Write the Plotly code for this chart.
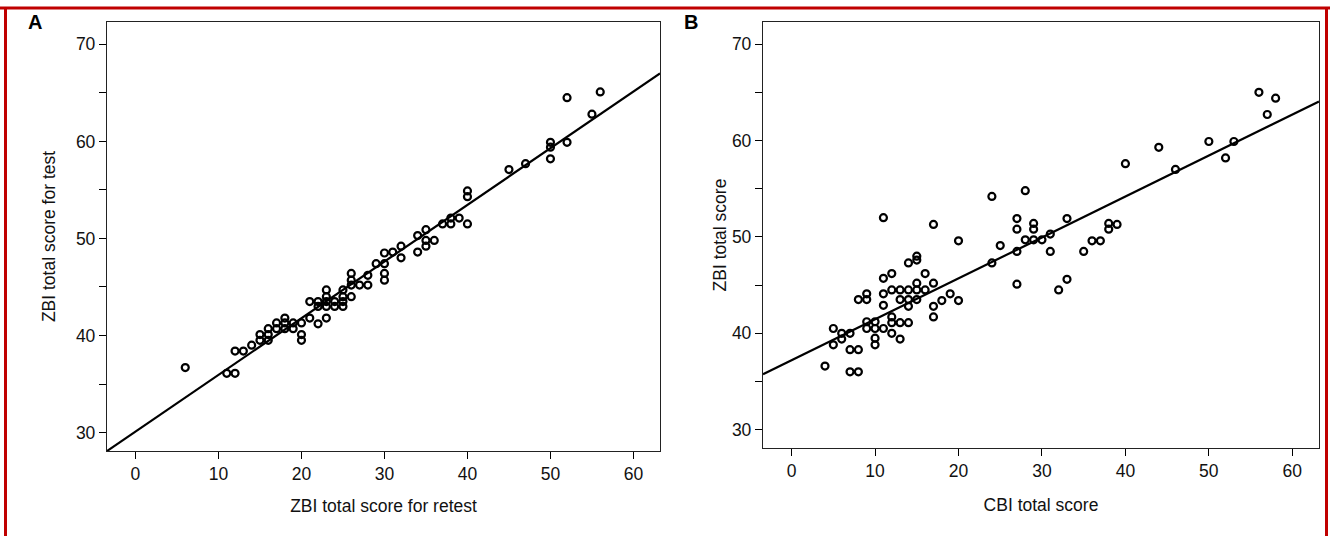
import plotly.graph_objects as go

# ---------------- data ----------------
# Panel A: ZBI retest (x) vs ZBI test (y)
a_retest = [6, 11, 12, 12, 13, 14, 15, 15, 16, 16, 16, 17, 17, 18, 18, 18, 19, 19,
            20, 20, 20, 21, 21, 22, 22, 22, 23, 23, 23, 23, 23, 24, 24, 25, 25, 25, 25,
            26, 26, 26, 26, 27, 28, 28, 29, 30, 30, 30, 30, 31, 32, 32, 34, 34, 35, 35, 35,
            36, 37, 38, 38, 39, 40, 40, 40, 45, 47, 50, 50, 50, 52, 55, 52, 56]
a_test = [36.7, 36.1, 36.1, 38.4, 38.4, 39.0, 39.5, 40.1, 39.5, 40.1, 40.7, 40.7, 41.3,
          41.8, 40.7, 41.3, 41.3, 40.7, 41.3, 40.1, 39.5, 43.5, 41.8, 43.5, 43.0, 41.2,
          44.7, 44.0, 43.5, 43.0, 41.8, 43.5, 43.0, 44.7, 44.0, 43.5, 43.0,
          46.4, 45.7, 45.2, 44.0, 45.2, 45.2, 46.2, 47.4, 48.5, 47.4, 46.4, 45.7, 48.6,
          49.2, 48.0, 50.3, 48.6, 50.9, 49.8, 49.2, 49.8, 51.5, 52.1, 51.5, 52.1,
          54.9, 54.3, 51.5, 57.1, 57.7, 59.9, 59.4, 58.2, 59.9, 62.8, 64.5, 65.1]
a_fit_intercept = 30.1
a_fit_slope = 0.584

# Panel B: CBI total (x) vs ZBI total (y)
b_cbi = [4, 5, 5, 6, 6, 7, 7, 7, 8, 8, 8, 9, 9, 9, 9, 10, 10, 10, 10,
         11, 11, 11, 11, 11, 12, 12, 12, 12, 12, 13, 13, 13, 13, 14, 14, 14, 14, 14,
         15, 15, 15, 15, 15, 16, 16, 17, 17, 17, 17, 18, 19, 20, 20,
         24, 28, 24, 25, 27, 27, 27, 27, 28, 29, 29, 29, 30, 31, 31, 32, 33, 33,
         35, 36, 37, 38, 38, 39, 40, 44, 46, 50, 52, 53, 56, 57, 58]
b_zbi = [36.6, 40.5, 38.8, 40.0, 39.4, 40.0, 38.3, 36.0, 38.3, 36.0, 43.5,
         43.5, 44.1, 41.2, 40.5, 41.2, 40.5, 39.5, 38.8,
         52.0, 45.7, 44.1, 42.9, 40.5, 46.2, 44.5, 41.7, 41.1, 40.0,
         44.5, 43.5, 41.1, 39.4, 47.3, 44.5, 43.5, 42.8, 41.1,
         48.0, 45.2, 44.5, 43.5, 47.6, 46.2, 44.5, 51.3, 45.2, 42.8, 41.7, 43.4, 44.1, 43.4, 49.6,
         54.2, 54.8, 47.3, 49.1, 51.9, 50.8, 48.5, 45.1, 49.7, 51.4, 50.8, 49.7, 49.7,
         50.3, 48.5, 44.5, 51.9, 45.6, 48.5, 49.6, 49.6, 51.4, 50.8, 51.3, 57.6, 59.3,
         57.0, 59.9, 58.2, 59.9, 65.0, 62.7, 64.4]
b_fit_intercept = 37.2
b_fit_slope = 0.425

x_ticks = [0, 10, 20, 30, 40, 50, 60]
y_ticks = [30, 35, 40, 45, 50, 55, 60, 65, 70]
y_ticktext = ["30", "", "40", "", "50", "", "60", "", "70"]

x_range = [-3.43, 63.2]
y_range = [28.1, 72.3]

W, H = 1330, 536
FONT = "Liberation Sans, Arial, sans-serif"
FS = 17.5

def line_pts(a, b):
    xs = list(x_range)
    return xs, [a + b * x for x in xs]

fig = go.Figure()

marker = dict(symbol="circle-open", size=7, color="black", line=dict(width=2.2, color="black"))

lx, ly = line_pts(a_fit_intercept, a_fit_slope)
fig.add_trace(go.Scatter(x=lx, y=ly, mode="lines", line=dict(color="black", width=2.2),
                         xaxis="x", yaxis="y", showlegend=False))
fig.add_trace(go.Scatter(x=a_retest, y=a_test, mode="markers", marker=marker,
                         xaxis="x", yaxis="y", showlegend=False))

lx, ly = line_pts(b_fit_intercept, b_fit_slope)
fig.add_trace(go.Scatter(x=lx, y=ly, mode="lines", line=dict(color="black", width=2.2),
                         xaxis="x2", yaxis="y2", showlegend=False))
fig.add_trace(go.Scatter(x=b_cbi, y=b_zbi, mode="markers", marker=marker,
                         xaxis="x2", yaxis="y2", showlegend=False))

def px_x(p):
    return p / W

def px_y(p):
    return 1 - p / H

tfont = dict(family=FONT, size=FS, color="#111")

common_x = dict(range=x_range, tickmode="array", tickvals=x_ticks, ticks="outside",
                ticklen=7, tickwidth=1.3, tickcolor="black", showline=True, linecolor="#222",
                linewidth=1.3, mirror=True, showgrid=False, zeroline=False, tickfont=tfont)
common_y = dict(range=y_range, tickmode="array", tickvals=y_ticks, ticktext=y_ticktext,
                ticks="outside", ticklen=7, tickwidth=1.3, tickcolor="black", showline=True,
                linecolor="#222", linewidth=1.3, mirror=True, showgrid=False, zeroline=False,
                tickfont=tfont)

fig.update_layout(
    width=W, height=H, autosize=False,
    margin=dict(l=0, r=0, t=0, b=0),
    paper_bgcolor="white", plot_bgcolor="white",
    xaxis=dict(common_x, domain=[px_x(107), px_x(660)], anchor="y",
               title=dict(text="ZBI total score for retest", font=tfont, standoff=16)),
    yaxis=dict(common_y, domain=[px_y(451), px_y(22)], anchor="x",
               title=dict(text="ZBI total score for test", font=tfont, standoff=15)),
    xaxis2=dict(common_x, domain=[px_x(763), px_x(1319)], anchor="y2",
                title=dict(text="CBI total score", font=tfont, standoff=18)),
    yaxis2=dict(common_y, domain=[px_y(448), px_y(22)], anchor="x2",
                title=dict(text="ZBI total score", font=tfont, standoff=0)),
    annotations=[
        dict(text="<b>A</b>", x=px_x(35), y=px_y(22), xref="paper", yref="paper",
             xanchor="center", yanchor="middle",
             showarrow=False, font=dict(family=FONT, size=20, color="black")),
        dict(text="<b>B</b>", x=px_x(691), y=px_y(22), xref="paper", yref="paper",
             xanchor="center", yanchor="middle",
             showarrow=False, font=dict(family=FONT, size=20, color="black")),
    ],
    shapes=[
        dict(type="line", xref="paper", yref="paper", x0=0, x1=1, y0=px_y(8), y1=px_y(8),
             line=dict(color="#c00000", width=3)),
        dict(type="line", xref="paper", yref="paper", x0=px_x(5.5), x1=px_x(5.5), y0=0, y1=px_y(7),
             line=dict(color="#c00000", width=3)),
        dict(type="line", xref="paper", yref="paper", x0=px_x(1326.5), x1=px_x(1326.5), y0=0, y1=px_y(7),
             line=dict(color="#c00000", width=3)),
    ],
)

fig.write_html("out.html", config={"displayModeBar": False},
               post_script="document.body.style.margin='0';document.body.style.overflow='hidden';")
